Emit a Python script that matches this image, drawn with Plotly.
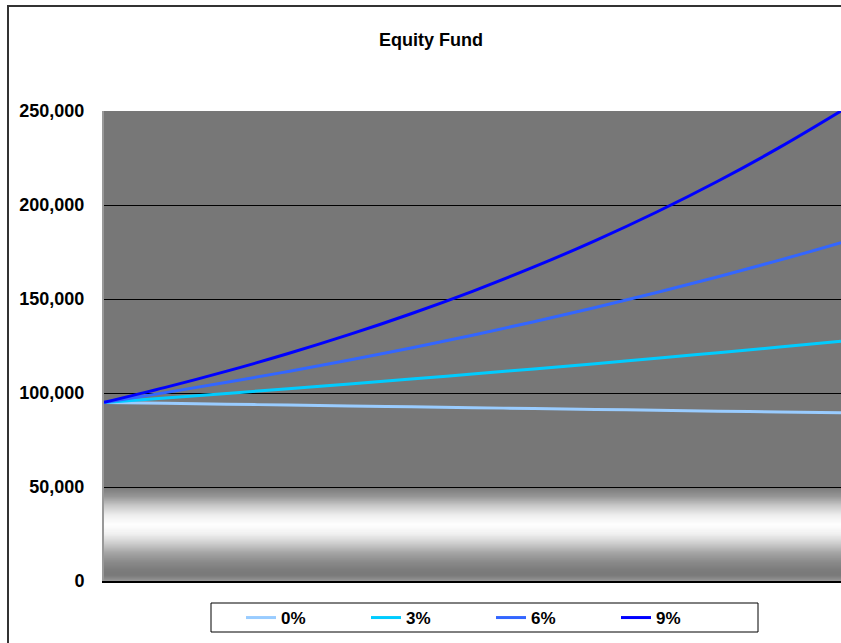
import numpy as np
import plotly.graph_objects as go

years = list(range(13))
series_names = ["0%", "3%", "6%", "9%"]
v0 = [95000, 94525, 94052, 93582, 93114, 92649, 92185, 91724, 91266, 90809, 90355, 89903, 89454]
v3 = [95000, 97361, 99780, 102260, 104801, 107406, 110075, 112810, 115614, 118487, 121431, 124449, 127542]
v6 = [95000, 100197, 105677, 111458, 117555, 123986, 130768, 137921, 145466, 153423, 161815, 170666, 180000]
v9 = [95000, 102977, 111624, 120997, 131157, 142170, 154108, 167048, 181075, 196280, 212761, 230626, 250000]
colors = ["#99ccff", "#00ccff", "#3366ff", "#0000ff"]
y_ticks = [0, 50000, 100000, 150000, 200000, 250000]

W, H = 841, 643
L, R, T, B = 104, 0, 111, 62
pw = W - L - R
ph = H - T - B

FONT = "Arial, Liberation Sans, sans-serif"

fig = go.Figure()
for name, vals, c in zip(series_names, [v0, v3, v6, v9], colors):
    fig.add_trace(go.Scatter(x=years, y=vals, mode="lines", name=f"<b>{name}</b>",
                             line=dict(color=c, width=3, shape="spline")))

# gradient band below 50,000
stops_v = [0, 3000, 6000, 10000, 15000, 20000, 25000, 30000, 35000, 40000, 45000, 50000]
stops_g = [150, 122, 124, 138, 165, 205, 240, 255, 238, 200, 150, 120]
shapes = []
n = 100
step = 50000 / n
for i in range(n):
    y0 = step * i
    y1 = min(50000, y0 + 2.5 * step)
    g = int(round(np.interp(y0 + step / 2, stops_v, stops_g)))
    shapes.append(dict(type="rect", xref="paper", yref="y", x0=0, x1=1, y0=y0, y1=y1,
                       fillcolor=f"rgb({g},{g},{g})", line=dict(width=0), layer="below"))

# outer chart border
shapes.append(dict(type="rect", xref="paper", yref="paper",
                   x0=(8 - L) / pw, x1=1.2, y0=-0.5, y1=(H - B - 6) / ph,
                   line=dict(color="#333333", width=2), fillcolor="rgba(0,0,0,0)", layer="above"))
# legend box
shapes.append(dict(type="rect", xref="paper", yref="paper",
                   x0=(211 - L) / pw, x1=(758 - L) / pw,
                   y0=(H - B - 632) / ph, y1=(H - B - 603) / ph,
                   line=dict(color="black", width=1), fillcolor="white", layer="above"))

fig.update_layout(
    width=W, height=H,
    margin=dict(l=L, r=R, t=T, b=B),
    paper_bgcolor="white",
    plot_bgcolor="#777777",
    title=dict(text="<b>Equity Fund</b>", x=431 / W, xref="container", xanchor="center",
               y=1 - 40 / H, yref="container", yanchor="middle",
               font=dict(family=FONT, size=18, color="black")),
    font=dict(family=FONT, size=18, color="black"),
    shapes=shapes,
    showlegend=True,
    legend=dict(orientation="h", x=(241 - L) / pw, xanchor="left",
                y=(H - B - 600) / ph, yanchor="top",
                bgcolor="rgba(0,0,0,0)", borderwidth=0,
                entrywidth=80, entrywidthmode="pixels",
                font=dict(family=FONT, size=17, color="black"),
                traceorder="normal"),
)
fig.update_xaxes(range=[0, 12], showgrid=False, zeroline=False, showticklabels=False,
                 showline=True, linecolor="black", linewidth=2, ticks="")
fig.update_yaxes(range=[0, 250000], tickmode="array", tickvals=y_ticks,
                 ticktext=[f"<b>{v:,}</b>" for v in y_ticks],
                 showgrid=True, gridcolor="black", gridwidth=1, zeroline=False,
                 showline=True, linecolor="#999999", linewidth=2,
                 ticks="", ticklabelstandoff=14,
                 tickfont=dict(family=FONT, size=18, color="black"))

fig.write_html("out.html")
